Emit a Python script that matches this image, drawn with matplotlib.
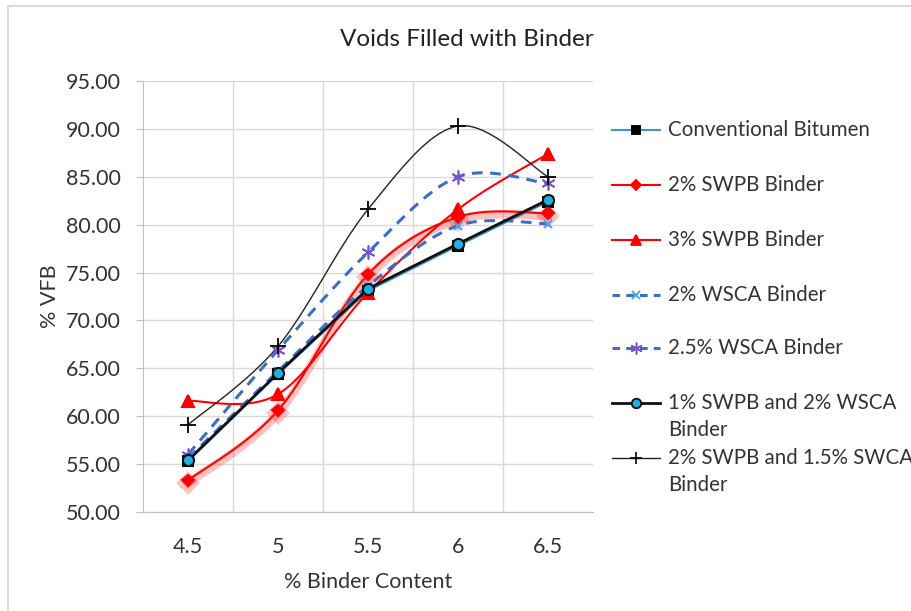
import numpy as np
import matplotlib
matplotlib.use("Agg")
import matplotlib.pyplot as plt
import matplotlib.patheffects as pe
from matplotlib.lines import Line2D

plt.rcParams['font.family'] = ['Lato', 'DejaVu Sans']

# binder content categories and % VFB values
binder = ['4.5', '5', '5.5', '6', '6.5']
conventional = [55.3, 64.4, 73.1, 77.8, 82.4]
swpb2 = [53.3, 60.6, 74.8, 80.8, 81.2]
swpb3 = [61.6, 62.3, 72.9, 81.6, 87.4]
wsca2 = [55.6, 64.7, 73.6, 79.9, 80.1]
wsca25 = [56.0, 66.9, 77.1, 85.0, 84.3]
swpb1_wsca2 = [55.4, 64.5, 73.3, 78.0, 82.6]
swpb2_swca15 = [59.1, 67.3, 81.6, 90.3, 85.0]

labels = ['Conventional Bitumen', '2% SWPB Binder', '3% SWPB Binder',
          '2% WSCA Binder', '2.5% WSCA Binder',
          '1% SWPB and 2% WSCA\nBinder', '2% SWPB and 1.5% SWCA\nBinder']


def smooth(xs, ys, n=30):
    # bezier smoothing like spreadsheet "smoothed line"
    xs = np.asarray(xs, float)
    ys = np.asarray(ys, float)
    pts = np.column_stack([xs, ys])
    out = []
    for i in range(len(pts) - 1):
        p0 = pts[i - 1] if i > 0 else pts[i]
        p1 = pts[i]
        p2 = pts[i + 1]
        p3 = pts[i + 2] if i + 2 < len(pts) else pts[i + 1]
        c1 = p1 + (p2 - p0) / 6
        c2 = p2 - (p3 - p1) / 6
        t = np.linspace(0, 1, n)[:, None]
        seg = ((1 - t) ** 3 * p1 + 3 * (1 - t) ** 2 * t * c1
               + 3 * (1 - t) * t ** 2 * c2 + t ** 3 * p2)
        out.append(seg if i == 0 else seg[1:])
    seg = np.vstack(out)
    return seg[:, 0], seg[:, 1]


fig = plt.figure(figsize=(9.12, 6.11), dpi=100)
ax = fig.add_axes([143 / 912, 1 - 512 / 611, 450 / 912, 431 / 611])

x = np.arange(len(binder))

styles = [
    dict(data=conventional, smooth=False, color='#4a8fd3', lw=1.5, ls='-',
         marker='s', mfc='black', mec='black', ms=7, mew=1.5),
    dict(data=swpb2, smooth=True, color='#ff0000', lw=1.5, ls='-',
         marker='D', mfc='#ff0000', mec='#ff0000', ms=6, mew=1.5, glow=True),
    dict(data=swpb3, smooth=True, color='#ff0000', lw=1.5, ls='-',
         marker='^', mfc='#ff0000', mec='#ff0000', ms=8, mew=1.5),
    dict(data=wsca2, smooth=True, color='#3b6fc4', lw=2.2, ls=(0, (3.5, 2.5)),
         marker='x', mfc='#4aa3e6', mec='#4aa3e6', ms=6, mew=1.5),
    dict(data=wsca25, smooth=True, color='#3b6fc4', lw=2.2, ls=(0, (3.5, 2.5)),
         marker=(6, 2, 0), mfc='#7a4fd0', mec='#7a4fd0', ms=10, mew=1.2),
    dict(data=swpb1_wsca2, smooth=False, color='#111111', lw=2.0, ls='-',
         marker='o', mfc='#1fb1e6', mec='#111111', ms=8, mew=1.5),
    dict(data=swpb2_swca15, smooth=True, color='#222222', lw=1.0, ls='-',
         marker='+', mfc='black', mec='black', ms=11, mew=1.3),
]

for st in styles:
    if st['smooth']:
        sx, sy = smooth(x, st['data'])
    else:
        sx, sy = x, np.asarray(st['data'])
    effects = []
    if st.get('glow'):
        effects = [pe.SimpleLineShadow(offset=(0, -2), shadow_color='#ff3030',
                                       alpha=0.3, linewidth=6), pe.Normal()]
    ax.plot(sx, sy, color=st['color'], lw=st['lw'], ls=st['ls'],
            path_effects=effects, zorder=2)
    ax.plot(x, st['data'], ls='none', marker=st['marker'], ms=st['ms'],
            mfc=st['mfc'], mec=st['mec'], mew=st['mew'], path_effects=effects,
            zorder=3)

ax.set_xlim(-0.5, 4.5)
ax.set_ylim(50, 95)
ax.set_yticks(np.arange(50, 95.1, 5))
ax.set_yticklabels([f'{v:.2f}' for v in np.arange(50, 95.1, 5)])
ax.set_xticks(x)
ax.set_xticklabels(binder)
ax.set_xticks(np.arange(0.5, 4.5, 1), minor=True)
ax.grid(True, which='major', axis='y', color='#d9d9d9', lw=1)
ax.grid(True, which='minor', axis='x', color='#d9d9d9', lw=1)
ax.set_axisbelow(True)
for side in ['top', 'right']:
    ax.spines[side].set_visible(False)
for side in ['left', 'bottom']:
    ax.spines[side].set_color('#bfbfbf')
ax.tick_params(axis='y', length=5, color='#bfbfbf', labelsize=15.5,
               labelcolor='#333333', pad=11)
ax.tick_params(axis='x', which='both', length=0, labelsize=15.5,
               labelcolor='#333333', pad=18)
ax.set_xlabel('% Binder Content', fontsize=15.5, color='#333333', labelpad=11)
ax.set_ylabel('% VFB', fontsize=15.5, color='#333333', labelpad=4)
fig.text(467 / 912, 1 - 40 / 611, 'Voids Filled with Binder', fontsize=17.5,
         color='#222222', ha='center', va='center')

# legend drawn at fixed rows on the right
rows = [130, 185, 240, 295, 348, 403, 458]
for st, lab, py in zip(styles, labels, rows):
    fy = 1 - py / 611
    fig.add_artist(Line2D([612 / 912, 660 / 912], [fy, fy], color=st['color'],
                          lw=st['lw'], ls=st['ls'] if st['ls'] == '-' else (0, (2.5, 2)),
                          transform=fig.transFigure))
    fig.add_artist(Line2D([636 / 912], [fy], ls='none', marker=st['marker'],
                          ms=st['ms'] * 0.85, mfc=st['mfc'], mec=st['mec'],
                          mew=st['mew'] * 0.9, transform=fig.transFigure))
    fig.text(668 / 912, fy + 10 / 611, lab, fontsize=14.8, color='#333333',
             ha='left', va='top', linespacing=1.45)

# chart border
fig.add_artist(Line2D([8 / 912, 8 / 912, 1.0], [0, 1 - 6 / 611, 1 - 6 / 611],
                      color='#d9d9d9', lw=1.5, transform=fig.transFigure))

fig.savefig('out.png', dpi=100)
